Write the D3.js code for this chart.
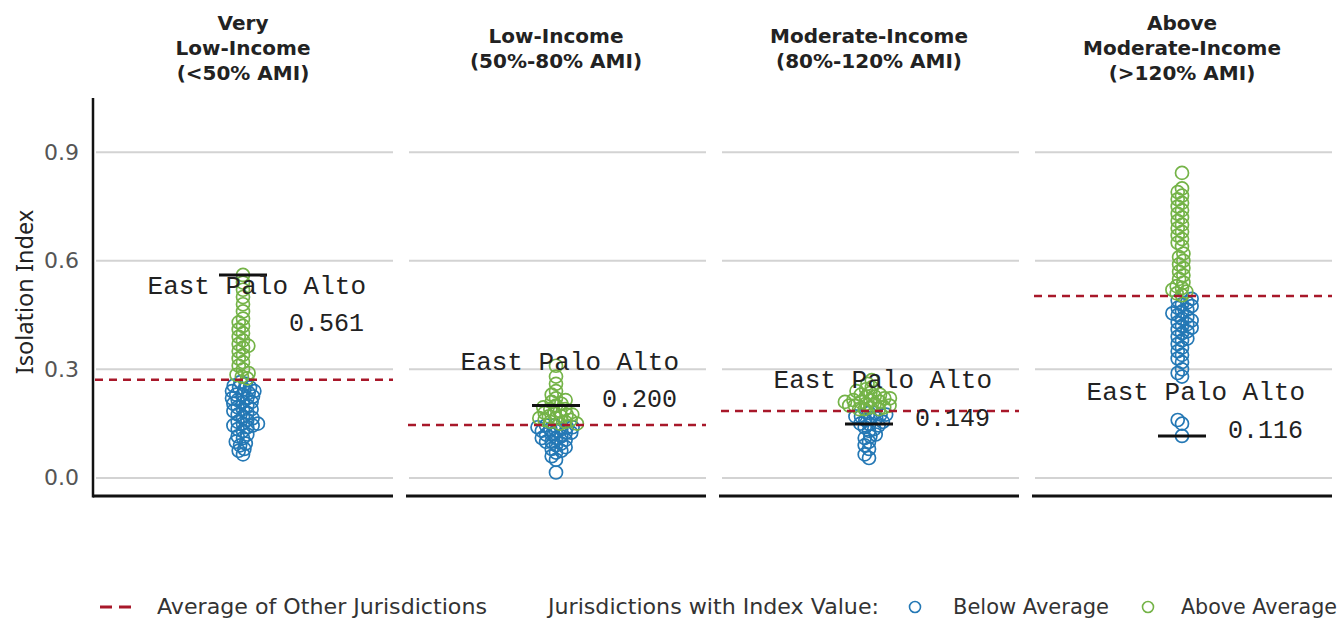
<!DOCTYPE html>
<html>
<head>
<meta charset="utf-8">
<script src="https://cdn.jsdelivr.net/npm/d3@7"></script>
<style>
  html, body { margin: 0; padding: 0; background: #fff; }
  svg { display: block; }
</style>
</head>
<body>
<svg id="chart" width="1343" height="620"></svg>
<script>
// ---------------- DATA ----------------
const panelTitles = [
  ["Very", "Low-Income", "(<50% AMI)"],
  ["Low-Income", "(50%-80% AMI)"],
  ["Moderate-Income", "(80%-120% AMI)"],
  ["Above", "Moderate-Income", "(>120% AMI)"]
];
const averages = [0.271, 0.146, 0.185, 0.503];
const highlightName = "East Palo Alto";
const highlightValues = [0.561, 0.200, 0.149, 0.116];
const labelSide = ["below", "above", "above", "above"];
const yTicks = [0.0, 0.3, 0.6, 0.9];

const valuesVeryLow = [
  0.065, 0.075, 0.08, 0.09, 0.095, 0.10, 0.11, 0.115, 0.12, 0.13, 0.135, 0.14, 0.145, 0.145,
  0.15, 0.15, 0.155, 0.16, 0.165, 0.17, 0.175, 0.18, 0.185, 0.19, 0.19, 0.195, 0.20, 0.205,
  0.21, 0.21, 0.215, 0.22, 0.22, 0.225, 0.23, 0.23, 0.235, 0.24, 0.24, 0.245, 0.25, 0.25,
  0.255, 0.26, 0.265,
  0.275, 0.28, 0.285, 0.29, 0.30, 0.31, 0.32, 0.33, 0.34, 0.35, 0.36, 0.365, 0.37, 0.38,
  0.39, 0.40, 0.41, 0.42, 0.43, 0.44, 0.46, 0.48, 0.50, 0.52, 0.54, 0.561
];
const valuesLow = [
  0.015, 0.05, 0.06, 0.07, 0.075, 0.08, 0.085, 0.09, 0.095, 0.10, 0.10, 0.105, 0.11, 0.11,
  0.115, 0.12, 0.12, 0.125, 0.125, 0.13, 0.13, 0.135, 0.135, 0.14, 0.14, 0.14, 0.145, 0.145,
  0.15, 0.15, 0.155, 0.155, 0.16, 0.16, 0.165, 0.165, 0.17, 0.17, 0.175, 0.175, 0.18, 0.18,
  0.185, 0.19, 0.19, 0.195, 0.20, 0.205, 0.21, 0.215, 0.22, 0.23, 0.24, 0.26, 0.28, 0.31
];
const valuesModerate = [
  0.055, 0.065, 0.08, 0.09, 0.10, 0.11, 0.115, 0.12, 0.13, 0.135, 0.14, 0.145, 0.149, 0.15,
  0.155, 0.16, 0.165, 0.165, 0.17, 0.17, 0.175, 0.175, 0.18, 0.18,
  0.19, 0.19, 0.19, 0.195, 0.195, 0.20, 0.20, 0.20, 0.205, 0.205, 0.21, 0.21, 0.21, 0.215,
  0.215, 0.22, 0.22, 0.225, 0.225, 0.23, 0.23, 0.235, 0.24, 0.245, 0.25, 0.26, 0.27
];
const valuesAboveModerate = [
  0.116, 0.15, 0.16, 0.28, 0.29, 0.30, 0.32, 0.33, 0.34, 0.35, 0.36, 0.37, 0.38, 0.385,
  0.39, 0.40, 0.405, 0.41, 0.415, 0.42, 0.425, 0.43, 0.435, 0.44, 0.445, 0.45, 0.455, 0.46,
  0.465, 0.47, 0.475, 0.48, 0.485, 0.49, 0.495,
  0.505, 0.51, 0.515, 0.52, 0.525, 0.53, 0.54, 0.55, 0.56, 0.57, 0.58, 0.59, 0.60, 0.61,
  0.62, 0.64, 0.65, 0.66, 0.67, 0.68, 0.69, 0.70, 0.71, 0.72, 0.73, 0.74, 0.75, 0.76, 0.77,
  0.78, 0.79, 0.80, 0.843
];
const panelValues = [valuesVeryLow, valuesLow, valuesModerate, valuesAboveModerate];

const legendLabels = {
  avg: "Average of Other Jurisdictions",
  heading: "Jurisdictions with Index Value:",
  below: "Below Average",
  above: "Above Average"
};

// ---------------- STYLE / LAYOUT ----------------
const COLORS = { below: "#2478b5", above: "#74b347", avg: "#a8182a", grid: "#d3d3d3" };
const SANS = "'DejaVu Sans', Verdana, sans-serif";
const TITLE_SANS = "'Noto Sans', 'Open Sans', sans-serif";
const MONO = "'Liberation Mono', 'Courier New', monospace";
const plotTop = 98, plotBottom = 496;
const firstLeft = 93, panelW = 300, panelGap = 13;
const R = 6.5, COLLIDE = 5.6;

const svg = d3.select("#chart");

const y = d3.scaleLinear().domain([-0.05, 1.05]).range([plotBottom, plotTop]);
const xPanel = d3.scaleBand()
  .domain(d3.range(panelTitles.length))
  .range([firstLeft, firstLeft + panelW * 4 + panelGap * 3])
  .paddingInner(panelGap / (panelW + panelGap));

// beeswarm layout (offsets in px from the panel centre)
function swarm(vals) {
  const pts = vals.map(v => ({ v, py: y(v) })).sort((a, b) => b.py - a.py);
  const placed = [];
  pts.forEach(p => {
    const forb = [];
    placed.forEach(q => {
      const dy = Math.abs(q.py - p.py);
      if (dy < COLLIDE) {
        const dx = Math.sqrt(COLLIDE * COLLIDE - dy * dy);
        forb.push([q.dx - dx, q.dx + dx]);
      }
    });
    const cands = [0];
    forb.forEach(f => { cands.push(f[0] - 0.01, f[1] + 0.01); });
    cands.sort((a, b) => Math.abs(a) - Math.abs(b));
    let best = 0;
    for (const c of cands) {
      if (!forb.some(f => c > f[0] && c < f[1])) { best = c; break; }
    }
    p.dx = best;
    placed.push(p);
  });
  return placed;
}

// gridlines + bottom axis per panel
panelTitles.forEach((_, i) => {
  const x0 = xPanel(i), x1 = x0 + xPanel.bandwidth();
  const g = svg.append("g");
  g.selectAll("line.grid").data(yTicks).enter().append("line")
    .attr("x1", x0 + 3).attr("x2", x1)
    .attr("y1", d => y(d)).attr("y2", d => y(d))
    .attr("stroke", COLORS.grid).attr("stroke-width", 2);
  g.append("line")
    .attr("x1", x0).attr("x2", x1)
    .attr("y1", plotBottom).attr("y2", plotBottom)
    .attr("stroke", "#111").attr("stroke-width", 3);
});

// y axis
const yAxis = d3.axisLeft(y).tickValues(yTicks).tickFormat(d3.format(".1f")).tickSize(0).tickPadding(14);
const yG = svg.append("g").attr("transform", `translate(${firstLeft},0)`).call(yAxis);
yG.select(".domain").remove();
yG.selectAll("text").attr("font-family", SANS).attr("font-size", 22).attr("fill", "#555");
svg.append("line")
  .attr("x1", firstLeft).attr("x2", firstLeft)
  .attr("y1", plotTop).attr("y2", plotBottom + 1.5)
  .attr("stroke", "#111").attr("stroke-width", 2.5);

svg.append("text")
  .attr("transform", `translate(25,292) rotate(-90)`)
  .attr("text-anchor", "middle").attr("dy", "0.35em")
  .attr("font-family", TITLE_SANS).attr("font-size", 23.5).attr("fill", "#222")
  .text("Isolation Index");

// panels
panelTitles.forEach((lines, i) => {
  const x0 = xPanel(i), cx = x0 + xPanel.bandwidth() / 2;
  const g = svg.append("g");

  // title
  const lh = 25, mid = 48;
  const t = g.append("text").attr("text-anchor", "middle")
    .attr("font-family", SANS).attr("font-size", 20).attr("font-weight", "bold").attr("fill", "#222");
  lines.forEach((ln, k) => {
    t.append("tspan").attr("x", cx)
      .attr("y", mid + (k - (lines.length - 1) / 2) * lh + 7)
      .text(ln);
  });

  // points
  const pts = swarm(panelValues[i]);
  g.selectAll("circle").data(pts).enter().append("circle")
    .attr("cx", d => cx + d.dx).attr("cy", d => d.py).attr("r", R)
    .attr("fill", "none")
    .attr("stroke", d => d.v >= averages[i] ? COLORS.above : COLORS.below)
    .attr("stroke-width", 1.7);

  // average line
  g.append("line")
    .attr("x1", x0 + 2).attr("x2", x0 + xPanel.bandwidth())
    .attr("y1", y(averages[i])).attr("y2", y(averages[i]))
    .attr("stroke", COLORS.avg).attr("stroke-width", 2.5).attr("stroke-dasharray", "8,6");

  // highlight segment
  const hy = y(highlightValues[i]);
  g.append("line")
    .attr("x1", cx - 24).attr("x2", cx + 24)
    .attr("y1", hy).attr("y2", hy)
    .attr("stroke", "#111").attr("stroke-width", 3);

  const below = labelSide[i] === "below";
  const rx = cx + 123;
  g.append("text")
    .attr("x", rx)
    .attr("y", below ? hy + 10 : hy - 45)
    .attr("dy", "0.35em")
    .attr("text-anchor", "end")
    .attr("font-family", MONO).attr("font-size", 26).attr("fill", "#222")
    .text(highlightName);
  g.append("text")
    .attr("x", rx - 2)
    .attr("y", below ? hy + 47 : hy - 7)
    .attr("dy", "0.35em")
    .attr("text-anchor", "end")
    .attr("font-family", MONO).attr("font-size", 25).attr("fill", "#222")
    .text(d3.format(".3f")(highlightValues[i]));
});

// legend
const ly = 607;
const lg = svg.append("g").attr("font-family", SANS).attr("font-size", 21).attr("fill", "#333");
lg.append("line").attr("x1", 100).attr("x2", 131).attr("y1", ly).attr("y2", ly)
  .attr("stroke", COLORS.avg).attr("stroke-width", 3).attr("stroke-dasharray", "12,7");
lg.append("text").attr("x", 157).attr("y", ly).attr("dy", "0.35em")
  .attr("textLength", 330).attr("lengthAdjust", "spacingAndGlyphs").text(legendLabels.avg);
lg.append("text").attr("x", 548).attr("y", ly).attr("dy", "0.35em")
  .attr("textLength", 331).attr("lengthAdjust", "spacingAndGlyphs").text(legendLabels.heading);
lg.append("circle").attr("cx", 915).attr("cy", ly).attr("r", 5.5).attr("fill", "none")
  .attr("stroke", COLORS.below).attr("stroke-width", 1.6);
lg.append("text").attr("x", 953).attr("y", ly).attr("dy", "0.35em")
  .attr("textLength", 156).attr("lengthAdjust", "spacingAndGlyphs").text(legendLabels.below);
lg.append("circle").attr("cx", 1148).attr("cy", ly).attr("r", 5.5).attr("fill", "none")
  .attr("stroke", COLORS.above).attr("stroke-width", 1.6);
lg.append("text").attr("x", 1181).attr("y", ly).attr("dy", "0.35em")
  .attr("textLength", 156).attr("lengthAdjust", "spacingAndGlyphs").text(legendLabels.above);
</script>
</body>
</html>
